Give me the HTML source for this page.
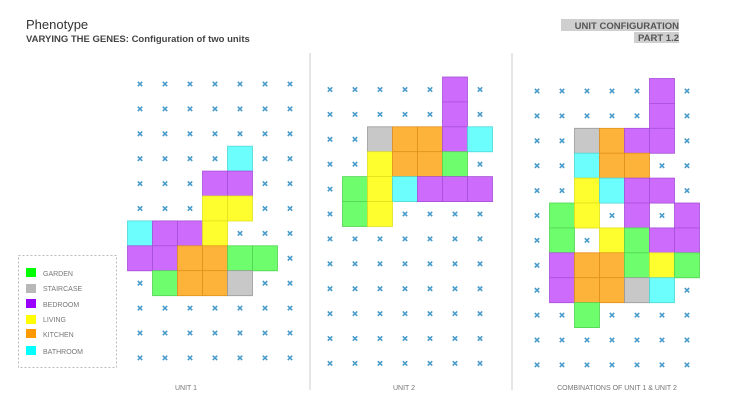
<!DOCTYPE html>
<html><head><meta charset="utf-8"><style>
body{margin:0;background:#fff;width:730px;height:411px;overflow:hidden;font-family:"Liberation Sans",sans-serif}
</style></head><body>
<svg id="s" width="730" height="411" xmlns="http://www.w3.org/2000/svg" font-family="Liberation Sans, sans-serif">
<text x="26" y="29" font-size="13" fill="#333">Phenotype</text>
<text x="26" y="42" font-size="9.5" font-weight="bold" fill="#444">VARYING THE GENES:  Configuration of two units</text>
<rect x="561" y="19" width="118" height="12" fill="#cfcfcf"/>
<rect x="634" y="32" width="45" height="11" fill="#cfcfcf"/>
<text x="679" y="29" font-size="9.5" font-weight="bold" fill="#555" text-anchor="end">UNIT CONFIGURATION</text>
<text x="679" y="41" font-size="9.5" font-weight="bold" fill="#555" text-anchor="end">PART 1.2</text>
<line x1="310" y1="53" x2="310" y2="390" stroke="#ccc" stroke-width="1"/>
<line x1="512" y1="53" x2="512" y2="390" stroke="#ccc" stroke-width="1"/>
<text x="186" y="390" font-size="7" fill="#777" text-anchor="middle">UNIT 1</text>
<text x="404" y="390" font-size="7" fill="#777" text-anchor="middle">UNIT 2</text>
<text x="617" y="390" font-size="7" fill="#777" text-anchor="middle">COMBINATIONS  OF UNIT 1 &amp; UNIT 2</text>
<rect x="18.5" y="255.5" width="98" height="112" fill="none" stroke="#bbb" stroke-dasharray="2,2"/>
<g font-size="7" fill="#777">
<rect x="26" y="268" width="10" height="9" fill="#00ff00"/><text x="43" y="276">GARDEN</text>
<rect x="26" y="284" width="10" height="9" fill="#b8b8b8"/><text x="43" y="291">STAIRCASE</text>
<rect x="26" y="299" width="10" height="9" fill="#9900ff"/><text x="43" y="307">BEDROOM</text>
<rect x="26" y="315" width="10" height="9" fill="#ffff00"/><text x="43" y="322">LIVING</text>
<rect x="26" y="329" width="10" height="9" fill="#ff9900"/><text x="43" y="337">KITCHEN</text>
<rect x="26" y="346" width="10" height="9" fill="#00ffff"/><text x="43" y="354">BATHROOM</text>
</g>
<g id="g"></g>
</svg>
<script>
var C={P:["#cd6bfd","#a64fd6"],G:["#6dfd6d","#52d452"],Y:["#fefe2e","#e0e020"],O:["#fdb33a","#e08f1c"],C:["#6cfdfd","#4fd6d6"],S:["#c8c8c8","#999"]};
var grids=[
{x:140,y:84,m:["0000000","0000000","0000000","0000C00","000PP00","000YY00","CPPY000","PPOOGG0","0GOOS00","0000000","0000000","0000000"]},
{x:330,y:89.5,m:["00000P0","00000P0","00SOOPC","00YOOG0","0GYCPPP","0GY0000","0000000","0000000","0000000","0000000","0000000","0000000"]},
{x:537,y:91,m:["00000P0","00000P0","00SOPP0","00COO00","00YCPP0","0GY0P0P","0G0YGPP","0POOGYG","0POOSC0","00G0000","0000000","0000000"]}];
var h="";
grids.forEach(function(g){g.m.forEach(function(r,ri){for(var ci=0;ci<7;ci++){var ch=r[ci],cx=g.x+ci*25,cy=g.y+ri*24.9;
if(ch!="0"){h+='<rect x="'+(cx-12.5)+'" y="'+(cy-12.5)+'" width="25" height="25" fill="'+C[ch][0]+'" stroke="'+C[ch][1]+'" stroke-width="0.8"/>';}
else{h+='<path d="M'+(cx-2.2)+' '+(cy-2.2)+'L'+(cx+2.2)+' '+(cy+2.2)+'M'+(cx+2.2)+' '+(cy-2.2)+'L'+(cx-2.2)+' '+(cy+2.2)+'" stroke="#4a9ccb" stroke-width="1.6"/>';}}});});
document.getElementById("g").innerHTML=h;
</script>
</body></html>
